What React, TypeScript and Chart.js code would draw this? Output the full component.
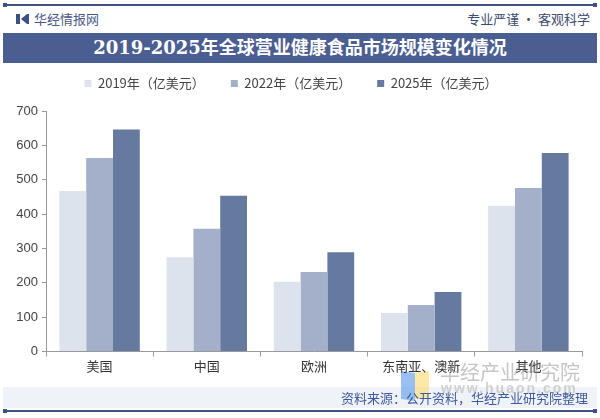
import React, { useEffect, useRef } from "react";
import { Chart, registerables } from "chart.js";

Chart.register(...registerables);

const categories = ["美国", "中国", "欧洲", "东南亚、澳新", "其他"];
const seriesNames = ["2019年（亿美元）", "2022年（亿美元）", "2025年（亿美元）"];
const values2019 = [467, 274, 203, 112, 424];
const values2022 = [563, 357, 231, 135, 476];
const values2025 = [646, 453, 289, 173, 578];
const colors = ["#dde3ec", "#a4b0c9", "#66799f"];
const yTicks = [0, 100, 200, 300, 400, 500, 600, 700];

const CJK = '"Noto Sans CJK SC", "Liberation Sans", sans-serif';

const legendGap = {
  id: "legendGap",
  beforeInit(chart: any) {
    const orig = chart.legend.fit;
    chart.legend.fit = function fit() {
      orig.bind(chart.legend)();
      this.height += 11;
    };
  },
};

export default function App() {
  const ref = useRef<HTMLCanvasElement | null>(null);

  useEffect(() => {
    document.body.style.margin = "0";
    if (!ref.current) return;
    const chart = new Chart(ref.current, {
      type: "bar",
      plugins: [legendGap],
      data: {
        labels: categories,
        datasets: [values2019, values2022, values2025].map((d, i) => ({
          label: seriesNames[i],
          data: d,
          backgroundColor: colors[i],
          borderWidth: 0,
          categoryPercentage: 0.75,
          barPercentage: 1,
        })),
      },
      options: {
        animation: false,
        responsive: false,
        maintainAspectRatio: false,
        layout: { padding: { left: 0, right: 18, top: 0, bottom: 0 } },
        plugins: {
          legend: {
            position: "top",
            labels: {
              boxWidth: 7,
              boxHeight: 7,
              padding: 26,
              color: "#444",
              font: { family: CJK, size: 13 },
            },
          },
          tooltip: { enabled: false },
        },
        scales: {
          x: {
            grid: {
              display: true,
              drawOnChartArea: false,
              drawTicks: true,
              tickLength: 5,
              color: "#999",
              offset: true,
            },
            border: { display: true, color: "#999" },
            ticks: { color: "#333", font: { family: CJK, size: 13 }, padding: 2 },
          },
          y: {
            min: 0,
            max: 700,
            afterBuildTicks: (s: any) => {
              s.ticks = yTicks.map((v) => ({ value: v }));
            },
            afterFit: (s: any) => {
              s.width = 46;
            },
            grid: {
              display: true,
              drawOnChartArea: false,
              drawTicks: true,
              tickLength: 4,
              color: "#999",
            },
            border: { display: true, color: "#999" },
            ticks: {
              color: "#444",
              font: { family: '"Liberation Sans", Arial, sans-serif', size: 13 },
              padding: 4,
            },
          },
        },
      },
    });
    return () => chart.destroy();
  }, []);

  return (
    <div style={{ position: "relative", width: 600, height: 418, background: "#fff", overflow: "hidden" }}>
      {/* top line */}
      <div style={{ position: "absolute", left: 3, top: 4, width: 594, height: 2, background: "#3e5183" }} />
      <div style={{ position: "absolute", left: 3, top: 3, width: 4, height: 4, background: "#3e5183" }} />
      <div style={{ position: "absolute", left: 593, top: 3, width: 4, height: 4, background: "#3e5183" }} />
      {/* logo */}
      <div style={{ position: "absolute", left: 16, top: 14, width: 4, height: 10, background: "#3e5183" }} />
      <div
        style={{
          position: "absolute",
          left: 21,
          top: 14,
          width: 0,
          height: 0,
          borderTop: "5px solid transparent",
          borderBottom: "5px solid transparent",
          borderRight: "6px solid #3e5183",
        }}
      />
      <div style={{ position: "absolute", left: 27, top: 14, width: 2, height: 10, background: "#3e5183" }} />
      <div
        style={{
          position: "absolute",
          left: 34,
          top: 10,
          fontFamily: CJK,
          fontSize: 13,
          color: "#4a5a86",
          lineHeight: "18px",
        }}
      >
        华经情报网
      </div>
      <div
        style={{
          position: "absolute",
          right: 10,
          top: 10,
          fontFamily: CJK,
          fontSize: 13,
          color: "#3d4a6e",
          lineHeight: "18px",
        }}
      >
        专业严谨 • 客观科学
      </div>
      {/* banner */}
      <div
        style={{
          position: "absolute",
          left: 3,
          top: 33,
          width: 594,
          height: 30,
          background: "#4b5e91",
          color: "#fff",
          textAlign: "center",
          fontFamily: '"DejaVu Serif", "Noto Sans CJK SC", serif',
          fontWeight: "bold",
          fontSize: 18,
          lineHeight: "30px",
        }}
      >
        2019-2025年全球营业健康食品市场规模变化情况
      </div>
      {/* footer band */}
      <div style={{ position: "absolute", left: 3, top: 387, width: 594, height: 21, background: "#eff2f6" }} />
      {/* watermark logo */}
      <div
        style={{
          position: "absolute",
          left: 401,
          top: 372,
          width: 14,
          height: 28,
          background: "rgba(110,165,235,0.7)",
          transform: "skewY(8deg)",
        }}
      />
      <div
        style={{
          position: "absolute",
          left: 415,
          top: 372,
          width: 14,
          height: 26,
          background: "rgba(250,220,120,0.65)",
          transform: "skewY(-8deg)",
        }}
      />
      {/* chart */}
      <div style={{ position: "absolute", left: 0, top: 51, width: 600, height: 325 }}>
        <canvas ref={ref} width={600} height={325} style={{ width: 600, height: 325 }} />
      </div>
      {/* watermark text */}
      <div
        style={{
          position: "absolute",
          left: 440,
          top: 358,
          fontFamily: CJK,
          fontSize: 20,
          color: "rgba(140,140,140,0.5)",
          lineHeight: "28px",
          whiteSpace: "nowrap",
        }}
      >
        华经产业研究院
      </div>
      <div
        style={{
          position: "absolute",
          left: 441,
          top: 381,
          fontFamily: '"Liberation Sans", sans-serif',
          fontSize: 14,
          fontWeight: "bold",
          letterSpacing: 2,
          color: "rgba(150,150,150,0.4)",
          lineHeight: "14px",
          whiteSpace: "nowrap",
        }}
      >
        www.huaon.com
      </div>
      <div
        style={{
          position: "absolute",
          right: 12,
          top: 388,
          fontFamily: CJK,
          fontSize: 13,
          color: "#3f5a9c",
          lineHeight: "20px",
        }}
      >
        资料来源：公开资料，华经产业研究院整理
      </div>
      <div style={{ position: "absolute", left: 3, top: 410, width: 594, height: 2, background: "#3e5183" }} />
      <div style={{ position: "absolute", left: 3, top: 409, width: 4, height: 4, background: "#3e5183" }} />
      <div style={{ position: "absolute", left: 593, top: 409, width: 4, height: 4, background: "#3e5183" }} />
    </div>
  );
}
